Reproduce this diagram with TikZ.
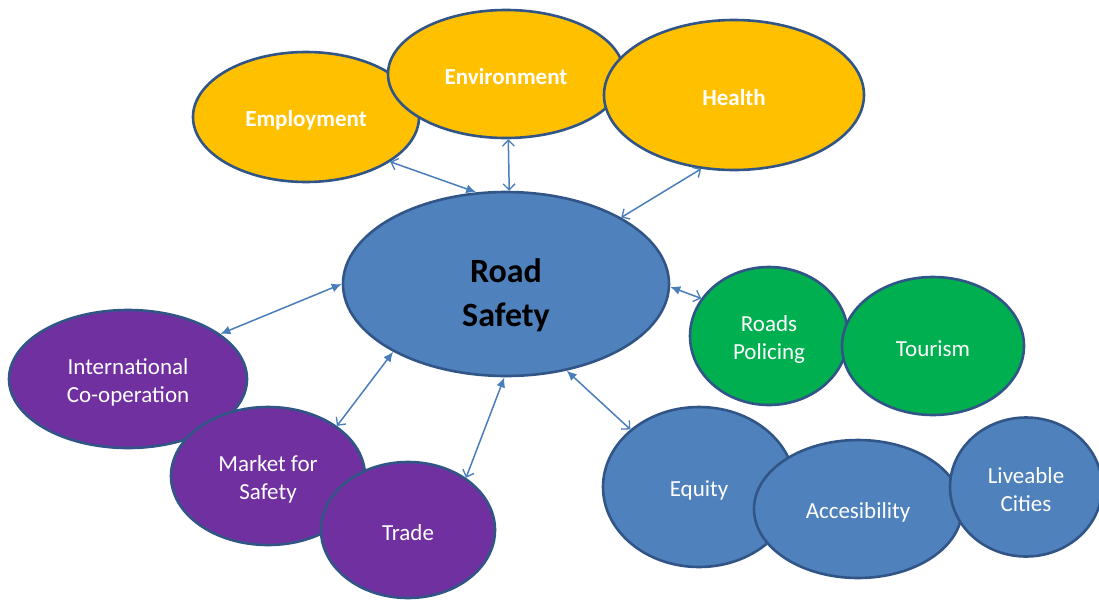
\documentclass[tikz,border=0pt]{standalone}
\usepackage{fontspec}
\setmainfont{Carlito}
\usetikzlibrary{shapes.geometric,arrows.meta}
\definecolor{myyellow}{RGB}{255,192,0}
\definecolor{myblue}{RGB}{79,129,189}
\definecolor{mygreen}{RGB}{0,176,80}
\definecolor{mypurple}{RGB}{112,48,160}
\definecolor{myedge}{RGB}{50,85,135}
\definecolor{myarrow}{RGB}{74,126,187}
\tikzset{fhead/.tip={Latex[length=10pt,width=9pt]},
  ohead/.tip={Straight Barb[length=6pt,width=12pt,line width=1.3pt]}}
\begin{document}
\begin{tikzpicture}[x=1pt,y=-1pt,
  bubble/.style={ellipse,draw=myedge,line width=2.6pt,inner sep=0pt},
  txt/.style={label={[text=white,align=center,yshift=-3pt,
    font=\fontsize{23}{28}\selectfont]center:#1}},
  btxt/.style={label={[text=white,align=center,yshift=-3pt,
    font=\fontsize{23}{28}\selectfont\bfseries]center:#1}},
  ybub/.style={bubble,fill=myyellow},
  bbub/.style={bubble,fill=myblue},
  gbub/.style={bubble,fill=mygreen},
  pbub/.style={bubble,fill=mypurple},
  link/.style={draw=myarrow,line width=1.5pt}]
  \useasboundingbox (0,0) rectangle (1099,600);

  % top row
  \node[ybub,minimum width=226pt,minimum height=130pt,btxt=Employment] (emp) at (306,117) {};
  \node[ybub,minimum width=236pt,minimum height=128pt,btxt=Environment] (env) at (506,74) {};
  \node[ybub,minimum width=260pt,minimum height=150pt,btxt=Health] (hea) at (734,95) {};

  % left group
  \node[pbub,minimum width=238pt,minimum height=138pt,txt={International\\Co-operation}] (intl) at (128,379) {};
  \node[pbub,minimum width=194pt,minimum height=138pt,txt={Market for\\Safety}] (mkt) at (268,476) {};
  \node[pbub,minimum width=174pt,minimum height=136pt,txt=Trade] (trade) at (408,530) {};

  % right groups
  \node[gbub,minimum width=158pt,minimum height=138pt,txt={Roads\\Policing}] (pol) at (769,336) {};
  \node[gbub,minimum width=182pt,minimum height=138pt,txt=Tourism] (tour) at (933,346) {};
  \node[bbub,minimum width=192pt,minimum height=160pt,txt=Equity] (equ) at (699,487) {};
  \node[bbub,minimum width=208pt,minimum height=138pt,txt=Accesibility] (acc) at (858,509) {};
  \node[bbub,minimum width=152pt,minimum height=139pt,txt={Liveable\\Cities}] (liv) at (1026,487) {};

  % centre
  \node[bbub,minimum width=326pt,minimum height=184pt,
    label={[align=center,yshift=-11pt,font=\fontsize{34}{44}\selectfont\bfseries]center:Road\\Safety}] (rs) at (506,284) {};

  % arrows to the centre
  \draw[link,ohead-fhead] (emp.332) -- (rs.108);
  \draw[link,ohead-ohead] (env.272) -- (rs.88);
  \draw[link,ohead-ohead] (hea.246) -- (rs.30);
  \draw[link,fhead-fhead] (intl.26) -- (rs.180);
  \draw[link,fhead-ohead] (rs.359) -- (pol.151);
  \draw[link,ohead-fhead] (mkt.36) -- (rs.211);
  \draw[link,ohead-fhead] (trade.42) -- (rs.269);
  \draw[link,fhead-ohead] (rs.305) -- (equ.140);
\end{tikzpicture}
\end{document}
